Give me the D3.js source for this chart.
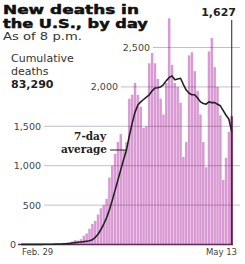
<!DOCTYPE html>
<html><head><meta charset="utf-8">
<script src="https://cdn.jsdelivr.net/npm/d3@7"></script>
<style>
html,body{margin:0;padding:0;background:#fff;}
svg{display:block;}
</style></head>
<body>
<script>
// Days from Feb. 29 to May 13 (index 0..74)
const dayLabels = ["Feb. 29", "May 13"];
const dailyDeaths = [
  1,1,5,1,3,1,3,2,3,4,4,8,7,10,10,11,22,23,40,56,49,68,110,140,200,260,300,380,460,500,580,850,
  1000,1150,1300,1400,1200,1300,1850,1900,2050,1900,1750,1480,1500,2300,2430,2300,2100,1850,1650,2050,
  2870,2280,2050,2000,1800,1110,1300,2400,2440,2200,
  1950,1650,1300,980,2450,2620,2250,2000,1640,820,1100,1430,1627
];
const sevenDayAvg = [
  1,1,2,2,2,2,2,2,3,3,3,4,5,6,7,9,11,14,19,24,28,32,36,42,48,60,90,130,190,260,340,440,
  560,690,820,950,1080,1200,1380,1540,1680,1770,1810,1840,1870,1900,1950,1985,1990,2000,2030,2080,
  2120,2140,2090,2100,2110,2030,1960,1920,1900,1900,
  1860,1810,1790,1780,1810,1800,1800,1780,1760,1700,1640,1590,1430
];
const yTicks = [0, 500, 1000, 1500, 2000, 2500];
const yTickLabels = ["0", "500", "1,000", "1,500", "2,000", "2,500"];
const titleLines = ["New deaths in", "the U.S., by day"];
const subtitle = "As of 8 p.m.";
const cumulativeLabel = ["Cumulative", "deaths"];
const cumulativeValue = "83,290";
const latestLabel = "1,627";
const avgLabel = ["7-day", "average"];

const W = 245, H = 264;
const svg = d3.select("body").append("svg").attr("width", W).attr("height", H);

const idx = d3.range(dailyDeaths.length);
const x = d3.scaleBand().domain(idx).range([20, 233]).paddingInner(0.12).paddingOuter(0);
const y = d3.scaleLinear().domain([0, 2500]).range([244.5, 47.5]);

// bars
svg.append("g").selectAll("rect").data(idx).join("rect")
  .attr("x", d => x(d))
  .attr("width", x.bandwidth())
  .attr("y", d => y(dailyDeaths[d]))
  .attr("height", d => y(0) - y(dailyDeaths[d]))
  .attr("fill", d => d === idx.length - 1 ? "#a4498f" : "#d99ad3");

// gridlines (drawn over bars)
const gridStart = {500: 44, 1000: 44, 1500: 44, 2000: 121, 2500: 153};
const labelEnd = {0: 16, 500: 41, 1000: 41, 1500: 41, 2000: 118, 2500: 150};
const g = svg.append("g");
yTicks.forEach((t, i) => {
  if (t > 0) {
    g.append("line").attr("x1", gridStart[t]).attr("x2", 240)
      .attr("y1", y(t)).attr("y2", y(t))
      .attr("stroke", "#3a1036").attr("stroke-opacity", 0.28).attr("stroke-width", 1);
  }
  g.append("text").attr("x", labelEnd[t]).attr("y", y(t) + 3.5)
    .attr("text-anchor", "end")
    .attr("font-family", "DejaVu Sans, sans-serif").attr("font-size", 9.5)
    .attr("fill", "#444").text(yTickLabels[i]);
});
// baseline
svg.append("line").attr("x1", 18).attr("x2", 233).attr("y1", y(0)).attr("y2", y(0))
  .attr("stroke", "#5a2a55").attr("stroke-width", 1.5);

// 7-day average line
const line = d3.line().x((d, i) => x(i) + x.bandwidth() / 2).y(d => y(d)).curve(d3.curveLinear);
svg.append("path").datum(sevenDayAvg).attr("d", line)
  .attr("fill", "none").attr("stroke", "#222").attr("stroke-width", 1.6)
  .attr("stroke-linejoin", "round");

// latest marker
const lastX = x(idx.length - 1) + x.bandwidth() / 2;
svg.append("line").attr("x1", lastX).attr("x2", lastX).attr("y1", 20).attr("y2", y(0))
  .attr("stroke", "#222").attr("stroke-width", 1);
svg.append("text").attr("x", 236).attr("y", 16).attr("text-anchor", "end")
  .attr("font-family", "DejaVu Sans, sans-serif").attr("font-weight", "bold")
  .attr("font-size", 11).attr("fill", "#222").text(latestLabel);

// x labels
svg.append("text").attr("x", 22).attr("y", 255)
  .attr("font-family", "DejaVu Sans, sans-serif").attr("font-size", 8.5).attr("fill", "#444")
  .text(dayLabels[0]);
svg.append("text").attr("x", 237).attr("y", 255).attr("text-anchor", "end")
  .attr("font-family", "DejaVu Sans, sans-serif").attr("font-size", 8.5).attr("fill", "#444")
  .text(dayLabels[1]);

// 7-day average annotation
svg.append("text").attr("x", 106).attr("y", 140).attr("text-anchor", "end")
  .attr("font-family", "DejaVu Serif, serif").attr("font-weight", "bold").attr("font-size", 10.5)
  .attr("fill", "#222").text(avgLabel[0]);
svg.append("text").attr("x", 107).attr("y", 153).attr("text-anchor", "end")
  .attr("font-family", "DejaVu Serif, serif").attr("font-weight", "bold").attr("font-size", 10.5)
  .attr("fill", "#222").text(avgLabel[1]);
svg.append("line").attr("x1", 110).attr("x2", 127).attr("y1", 150).attr("y2", 150)
  .attr("stroke", "#222").attr("stroke-width", 1);

// helper: draw text horizontally stretched to a target width (wide heavy face)
function wideText(str, x0, y0, size, weight, fill, targetW, strokeW) {
  const t = svg.append("text").attr("x", 0).attr("y", 0)
    .attr("font-family", "DejaVu Sans, sans-serif").attr("font-weight", weight)
    .attr("font-size", size).attr("fill", fill).text(str);
  if (strokeW) t.attr("stroke", fill).attr("stroke-width", strokeW).attr("stroke-linejoin", "round");
  const w = t.node().getComputedTextLength();
  const sx = w > 0 ? targetW / w : 1;
  t.attr("transform", `translate(${x0},${y0}) scale(${sx},1)`);
  return t;
}
wideText(titleLines[0], 3, 13.5, 12.5, "bold", "#111", 136, 0.5);
wideText(titleLines[1], 3, 27.5, 12.5, "bold", "#111", 145, 0.5);
wideText(subtitle, 3, 39.5, 10.5, "normal", "#333", 79, 0);

cumulativeLabel.forEach((t, i) => {
  svg.append("text").attr("x", 11).attr("y", 62 + i * 13)
    .attr("font-family", "DejaVu Sans, sans-serif").attr("font-size", 11)
    .attr("fill", "#333").text(t);
});
svg.append("text").attr("x", 11).attr("y", 88)
  .attr("font-family", "DejaVu Sans, sans-serif").attr("font-weight", "bold")
  .attr("font-size", 11).attr("fill", "#222").text(cumulativeValue);
</script>
</body></html>
